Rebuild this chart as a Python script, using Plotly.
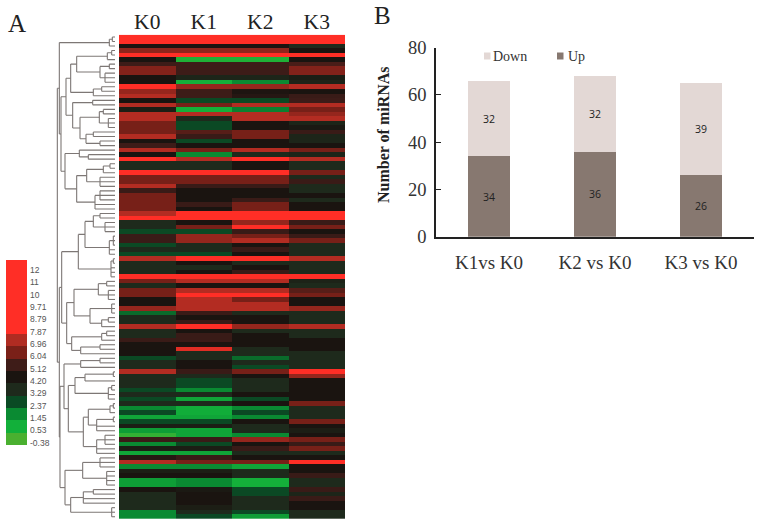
import plotly.graph_objects as go

W, H = 758, 525

samples = ["K0", "K1", "K2", "K3"]
R = 9
expression_rows = [
    [R,R,R,R],[R,R,R,R],[4.2,4.2,4.2,3.3],[6.4,6.4,6.4,4.2],[R,R,R,R],[4.2,.3,.3,4.2],
    [5.1,5.1,5.1,5.3],[6.2,5.1,5.1,6.2],[6.2,5.1,5.1,6.2],[4.2,3.5,3.5,3.8],[4.2,.5,1.45,3.6],
    [8.5,6.5,6.5,7],[6.5,5.1,4.3,4.2],[7,5.1,4.5,5],[4.2,2.4,2.4,5.1],[7,6,7,7],[3.8,.5,1.6,6],
    [7,7,7,6.5],[7,3.3,7,7],[6,2.4,4.2,3.5],[6,2.4,4.2,4],[6,5.5,6,5],[7,5,6,3.5],[4.2,2.4,4.2,3.5],
    [5.1,4.2,4.2,4.2],[7,6,7,6],[4.2,1.45,3.3,3.5],[R,7,R,7],[3.3,3.3,4.2,3.3],[3.3,3.3,4.2,3.3],
    [R,R,R,6],[6,6,6,3.3],[6,6,6,5],[7,5,5,3.3],[5,4.2,4.2,3.3],[6,4.2,4.2,4.2],
    [6,4.2,5,3.3],[6,5,6,4.2],[6,4.2,6,4.2],[7,R,R,R],[R,R,R,R],[3.3,4.2,6.5,5],[3.3,6,R,6],
    [2.4,2.4,5,4.2],[5,6.5,6,5],[5,6.5,7,6],[2.4,3.3,4.2,3.3],[3.3,3.3,5,3.3],[2.4,2.4,4.2,3.3],
    [7,R,R,7],[3.3,4.2,3.3,3.3],[3.3,3.3,4.2,3.3],[3.3,4.2,5,3.3],[R,R,R,R],[6,7,7,3.6],
    [3.3,4.2,4.2,3.3],[6,7,7,5.5],[6,R,R,6],[4.2,7,6,4.2],[4.2,7,7,4.2],[6.5,7,7,6.5],
    [1.9,5,3.3,3.3],[3.3,4.2,4.2,3.3],[3.3,5,4.2,3.3],[7,8,6.5,7],[3.3,4.2,3.3,3.3],[3.3,5,4.2,3.3],
    [5,5,4.2,4.2],[4.2,4.2,4.2,4.2],[4.2,7.5,3.3,4.2],[4.2,3.3,3.3,3.3],[2.4,3.3,1.9,3.3],
    [3.3,4.2,3.3,3.3],[3.3,4.2,2.4,3.3],[7,5,6,R],[3.3,3.3,4.2,6.5],[3.3,2.4,3.3,4.2],[3.3,2.4,3.3,4.2],
    [2.4,1.45,3.3,4.2],[3.3,3.3,4.2,4.2],[2.4,.8,2.4,4.2],[3.3,3.3,4.2,6],[1.45,.6,1.45,3.3],
    [2.4,.6,2.4,3.3],[.8,.8,1.45,3.3],[2.4,2.4,4.2,6],[3.8,3.8,3.3,4.2],[1,.8,3.3,3.8],[0,.8,1.45,4.2],
    [5,5,6.5,6],[1.45,2.4,4.2,5],[3.8,3.8,5,6],[.8,.8,3.3,3.3],[4.5,5,4.2,4.2],[7,6,6,R],
    [1.45,1.45,.8,4.2],[3.8,3.8,3.3,4.2],[4.2,4.2,3.3,5],[1,1.45,.5,3.3],[1,1.45,.5,3.3],
    [4.2,4,2.4,5],[3.3,4.2,2.4,3.5],[3.3,4.2,3.3,5],[3.3,4.2,3.3,4.2],[3.3,3.8,3.3,4.2],
    [1.45,3.3,2.4,3.3],[1.45,2.4,1,3.3],
]

legend_labels = ["12","11","10","9.71","8.79","7.87","6.96","6.04","5.12","4.20","3.29","2.37","1.45","0.53","-0.38"]
legend_values = [12,11,10,9.71,8.79,7.87,6.96,6.04,5.12,4.20,3.29,2.37,1.45,0.53,-0.38]

# merge tree: [merge distance, child, child...]; an integer child = that many leaves
A = [17,[8,2],1]
C1 = [133,[115,[23,[10,2],1],[45,[17,2],[30,3]]],[65,[40,2],1]]
C2 = [127,[67,2],[105,[47,[35,2],[20,3]],[87,[65,2],[45,2]]]]
D = [150,[107,1,[80,2]],[115,[85,[35,[15,2],1],[45,3]],[60,[45,3],2]]]
T1 = [167,A,[162,[147,C1,C2],D]]
P1 = [110,[90,[65,[45,2],[30,3]],[17,[5,3],2]],[12,[5,2],3]]
P2 = [145,[123,[50,[25,2],[20,3]],[75,[10,3],[40,[20,2],1]]],[130,[40,[25,2],1],[103,[45,2],1]]]
B1 = [103,[45,2],1]
B2 = [140,[120,[90,[5,2],1],[20,[10,2],2]],[95,[80,[15,[5,2],1],[55,[5,2],2]],[55,[30,3],2]]]
B3 = [150,[97,[45,3],[25,4]],[133,[95,[65,2],2],[10,3]]]
T2 = [167,[160,P1,P2],[165,[153,B1,B2],B3]]
tree = [173,T1,T2]

comparisons = ["K1vs K0", "K2 vs K0", "K3 vs K0"]
up = [34, 36, 26]
down = [32, 32, 39]

UP_COLOR, DOWN_COLOR = "#877870", "#e3d8d5"

lo, hi = -0.38, 12
anchors = [(-0.38,"#4ab030"),(0.53,"#12b03a"),(1.45,"#0a8a32"),(2.37,"#0a4a24"),(3.29,"#1e2a1c"),
           (4.20,"#1a1410"),(5.12,"#3e1c18"),(6.04,"#7a2018"),(6.96,"#b02c22"),(7.87,"#ff2e26"),(12,"#ff2e26")]
cscale = [[(v-lo)/(hi-lo), c] for v, c in anchors]

def px_x(a, b): return [a/W, b/W]
def px_y(a, b): return [1-b/H, 1-a/H]

fig = go.Figure()

fig.add_trace(go.Heatmap(z=expression_rows, x=samples, y=list(range(len(expression_rows))),
                         colorscale=cscale, zmin=lo, zmax=hi, showscale=False, xaxis="x", yaxis="y",
                         hoverinfo="skip"))

fig.add_trace(go.Heatmap(z=[[v] for v in legend_values], y=legend_labels, x=[0],
                         colorscale=cscale, zmin=lo, zmax=hi, showscale=False, xaxis="x2", yaxis="y2",
                         hoverinfo="skip"))

xs, ys = [], []
next_leaf = [0]
def walk(node):
    if node == 0:
        y = next_leaf[0]; next_leaf[0] += 1
        return y, 0
    h, *kids = node
    pts = []
    for k in kids:
        if isinstance(k, int):
            for _ in range(k):
                pts.append(walk(0))
        else:
            pts.append(walk(k))
    for y, ch in pts:
        xs.extend([ch, h, None]); ys.extend([y, y, None])
    xs.extend([h, h, None]); ys.extend([pts[0][0], pts[-1][0], None])
    return (pts[0][0]+pts[-1][0])/2, h
walk(tree)
fig.add_trace(go.Scatter(x=xs, y=ys, mode="lines", line=dict(color="#7d7775", width=1.1),
                         xaxis="x3", yaxis="y3", showlegend=False, hoverinfo="skip"))

fig.add_trace(go.Bar(x=comparisons, y=up, name="Up", marker=dict(color=UP_COLOR, line_width=0),
                     text=up, textposition="inside", insidetextanchor="middle", showlegend=False,
                     textfont=dict(family="Open Sans", size=10.5, color="#222"), xaxis="x4", yaxis="y4"))
fig.add_trace(go.Bar(x=comparisons, y=down, name="Down", marker=dict(color=DOWN_COLOR, line_width=0),
                     text=down, textposition="inside", insidetextanchor="middle", showlegend=False,
                     textfont=dict(family="Open Sans", size=10.5, color="#222"), xaxis="x4", yaxis="y4"))

serif = "Liberation Serif"
def label(text, x, y, size, color="#222"):
    return dict(text=text, x=x/W, y=1-y/H, xref="paper", yref="paper", xanchor="left", yanchor="middle",
                showarrow=False, font=dict(family=serif, size=size, color=color))

def swatch(x, y, color):
    return dict(type="rect", xref="paper", yref="paper", x0=x/W, x1=(x+6.5)/W, y0=1-(y+3.5)/H, y1=1-(y-3.5)/H,
                fillcolor=color, line_width=0)

fig.update_layout(
    width=W, height=H, margin=dict(l=0, r=0, t=0, b=0, autoexpand=False), autosize=False,
    paper_bgcolor="white", plot_bgcolor="white", barmode="stack", bargap=0.6,
    font=dict(family=serif, color="#333"), showlegend=False,
    xaxis=dict(domain=px_x(119,345), side="top", anchor="y", showline=False, ticks="", showgrid=False,
               tickfont=dict(family=serif, size=21.5, color="#222"), ticklabelstandoff=0),
    yaxis=dict(domain=px_y(34.7,519), autorange=False, range=[106.5,-0.5], visible=False, anchor="x"),
    xaxis2=dict(domain=px_x(6,27), visible=False, anchor="y2"),
    yaxis2=dict(domain=px_y(260,445), autorange="reversed", anchor="free", position=27/W, side="right",
                showline=False, ticks="", showgrid=False, type="category",
                tickfont=dict(family="Liberation Sans", size=8.5, color="#555"), ticklabelshift=-4, ticklabelstandoff=2),
    xaxis3=dict(domain=px_x(50,115), range=[195,0], visible=False, anchor="y3"),
    yaxis3=dict(domain=px_y(34.7,519), range=[106.5,-0.5], visible=False, anchor="x3"),
    xaxis4=dict(domain=px_x(436,754), anchor="y4", showline=True, linecolor="#222", linewidth=1.5, ticks="",
                showgrid=False, tickfont=dict(family=serif, size=19, color="#333"), ticklabelstandoff=8),
    yaxis4=dict(domain=px_y(47.7,236.7), range=[0,80], dtick=20, anchor="x4", showline=True, linecolor="#222",
                linewidth=1.5, ticks="inside", ticklen=5, tickcolor="#222", tickwidth=1.2, showgrid=False,
                tickfont=dict(family=serif, size=18.5, color="#333"), ticklabelstandoff=4, automargin=False),
    annotations=[
        label("A", 6, 24, 25), label("B", 372, 16, 25),
        label("Down", 491, 57, 14, "#333"), label("Up", 566, 57, 14, "#333"),
        dict(text="<b>Number of miRNAs</b>", x=383/W, y=1-135/H, xref="paper", yref="paper", textangle=-90,
             xanchor="center", yanchor="middle", showarrow=False, font=dict(family=serif, size=16, color="#222")),
    ],
    shapes=[swatch(484, 56, DOWN_COLOR), swatch(557, 56, UP_COLOR)],
)
fig.write_html("out.html", config={"displayModeBar": False},
               post_script="document.body.style.margin='0';document.documentElement.style.overflow='hidden';")
